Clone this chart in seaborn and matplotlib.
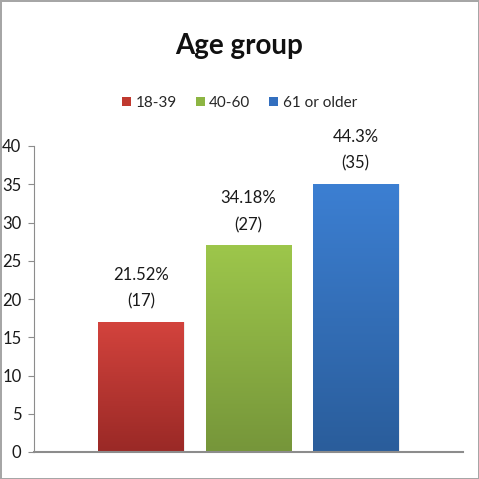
import numpy as np
import pandas as pd
import matplotlib
matplotlib.use("Agg")
import matplotlib.pyplot as plt
from matplotlib.colors import to_rgb
from matplotlib.patches import Patch
import seaborn as sns

groups = ["18-39", "40-60", "61 or older"]
counts = [17, 27, 35]
pct_labels = ["21.52%", "34.18%", "44.3%"]
top_colors = ["#d3433d", "#9dc64b", "#3c7fd2"]
bottom_colors = ["#9a2926", "#76963a", "#2a5d9b"]
mid_colors = ["#c0392f", "#8db543", "#336fbf"]

sns.set_theme(style="white")
plt.rcParams['font.family'] = ['Lato', 'DejaVu Sans']

df = pd.DataFrame({"cat": ["Age group"] * 3, "group": groups, "count": counts})

fig = plt.figure(figsize=(4.79, 4.79), dpi=100)
fig.patch.set_edgecolor("#a6a6a6")
fig.patch.set_linewidth(2)
ax = fig.add_axes([34 / 479, 1 - 452 / 479, (463 - 34) / 479, (452 - 146) / 479])

sns.barplot(data=df, x="cat", y="count", hue="group", hue_order=groups,
            palette=mid_colors, width=0.75, gap=0.2, legend=False, ax=ax)

# vertical gradient fill like the original office chart
for cont, top, bot in zip(ax.containers, top_colors, bottom_colors):
    for bar in cont:
        x0, y0 = bar.get_x(), bar.get_y()
        w, h = bar.get_width(), bar.get_height()
        c0, c1 = np.array(to_rgb(bot)), np.array(to_rgb(top))
        t = np.linspace(0, 1, 100)[:, None]
        grad = (c0 + (c1 - c0) * t)[:, None, :]
        im = ax.imshow(grad, extent=[x0, x0 + w, y0, y0 + h], aspect="auto",
                       origin="lower", zorder=bar.get_zorder())
        im.set_clip_path(bar)
        bar.set_facecolor("none")
        bar.set_edgecolor("#e8e8e8")
        bar.set_linewidth(0.5)

for cont, pct, n in zip(ax.containers, pct_labels, counts):
    bar = cont[0]
    ax.annotate(f"{pct}\n({n})", (bar.get_x() + bar.get_width() / 2, bar.get_height()),
                xytext=(0, 9), textcoords="offset points", ha="center", va="bottom",
                fontsize=12, linespacing=1.8, color="#1a1a1a")

ax.set_xlim(-0.5, 0.5)
ax.set_ylim(0, 40)
ax.set_yticks(range(0, 41, 5))
ax.set_xticks([])
ax.set_xlabel("")
ax.set_ylabel("")
ax.tick_params(axis="y", left=True, length=4, width=0.8, color="#8c8c8c",
               labelsize=12, labelcolor="#1a1a1a", pad=5)
for side in ["top", "right"]:
    ax.spines[side].set_visible(False)
for side in ["left", "bottom"]:
    ax.spines[side].set_color("#8c8c8c")
ax.spines["bottom"].set_linewidth(1.5)
ax.spines["left"].set_linewidth(0.8)

fig.text(0.5, 1 - 46 / 479, "Age group", ha="center", va="center",
         fontsize=20, fontweight="bold", color="#111111")

handles = [Patch(facecolor=c, edgecolor="none") for c in mid_colors]
fig.legend(handles, groups, loc="center", bbox_to_anchor=(0.5, 1 - 103 / 479), ncol=3,
           frameon=False, fontsize=11, handlelength=0.6, handleheight=0.6,
           handletextpad=0.3, columnspacing=1.2)

fig.savefig("out.png", dpi=100)
